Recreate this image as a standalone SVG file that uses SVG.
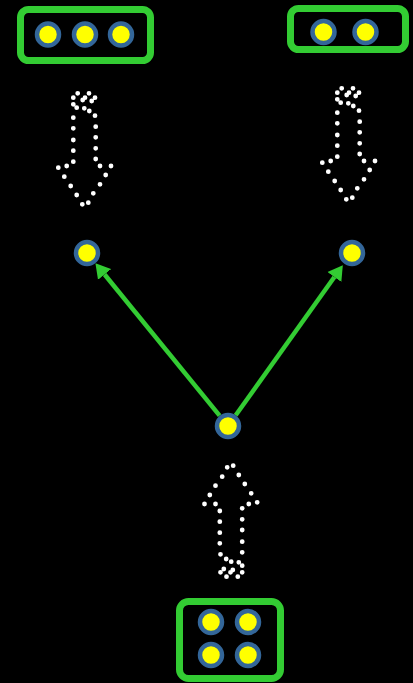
<svg xmlns="http://www.w3.org/2000/svg" xmlns:xlink="http://www.w3.org/1999/xlink" width="413" height="683" viewBox="0 0 413 683">
<style>
.box{fill:none;stroke:#33cc33;stroke-width:7}
.dot{fill:#ffff00;stroke:#336699;stroke-width:4.5}
.edge{fill:none;stroke:#33cc33;stroke-width:4.5}
.dots{fill:none;stroke:#ffffff;stroke-width:4.8;stroke-linecap:round}
</style>
<defs>
<marker id="ah" markerUnits="userSpaceOnUse" markerWidth="16" markerHeight="18" refX="0" refY="8.5" orient="auto" viewBox="0 0 16 17">
<path d="M0,0 L14.5,8.5 L0,17 z" fill="#33cc33"/>
</marker>
<path id="dotArrow" class="dots" d="M73.3,97.7h0M77.7,93.3h0M82.7,100h0M85,97.7h0M89,93.3h0M91.7,101h0M95,97.7h0M73.3,104.3h0M76.7,107.7h0M84.3,108.3h0M89.3,111h0M95,115.7h0M73.3,117.7h0M73.3,128.3h0M73.3,140h0M73.3,150.7h0M73.3,161.7h0M95.7,126.7h0M95.7,137.3h0M95.7,148.3h0M95.7,159h0M66.7,166h0M58.3,167.7h0M100,166h0M111,166h0M64.3,176.7h0M70.7,186h0M76.7,195h0M82.3,204.3h0M105.7,175h0M100,184.3h0M93.3,193.3h0M88.3,202.7h0"/>
</defs>
<rect x="0" y="0" width="413" height="683" fill="#000000"/>
<g id="connectors">
<path class="edge" d="M219.6,415.7 L104.6,274.5" marker-end="url(#ah)"/>
<path class="edge" d="M235.7,415.2 L334.4,277" marker-end="url(#ah)"/>
<use id="arrow-left" href="#dotArrow" xlink:href="#dotArrow"/>
<use id="arrow-right" href="#dotArrow" xlink:href="#dotArrow" transform="translate(264,-5)"/>
<use id="arrow-up" href="#dotArrow" xlink:href="#dotArrow" transform="rotate(180,157.75,335)"/>
</g>
<g id="group-top-left">
<rect class="box" x="20.5" y="9.5" width="130" height="51" rx="8"/>
<circle class="dot" cx="48" cy="34.5" r="11"/>
<circle class="dot" cx="85" cy="34.5" r="11"/>
<circle class="dot" cx="121" cy="34.5" r="11"/>
</g>
<g id="group-top-right">
<rect class="box" x="290.5" y="8.5" width="115" height="41" rx="8"/>
<circle class="dot" cx="323.5" cy="32" r="11"/>
<circle class="dot" cx="365.5" cy="32" r="11"/>
</g>
<g id="group-bottom">
<rect class="box" x="179.5" y="601.5" width="101" height="77" rx="9"/>
<circle class="dot" cx="211" cy="622" r="11"/>
<circle class="dot" cx="248" cy="622" r="11"/>
<circle class="dot" cx="211" cy="655" r="11"/>
<circle class="dot" cx="248" cy="655" r="11"/>
</g>
<g id="node-left"><circle class="dot" cx="87" cy="253" r="11"/></g>
<g id="node-right"><circle class="dot" cx="352" cy="253" r="11"/></g>
<g id="node-center"><circle class="dot" cx="228" cy="426" r="11"/></g>
</svg>
